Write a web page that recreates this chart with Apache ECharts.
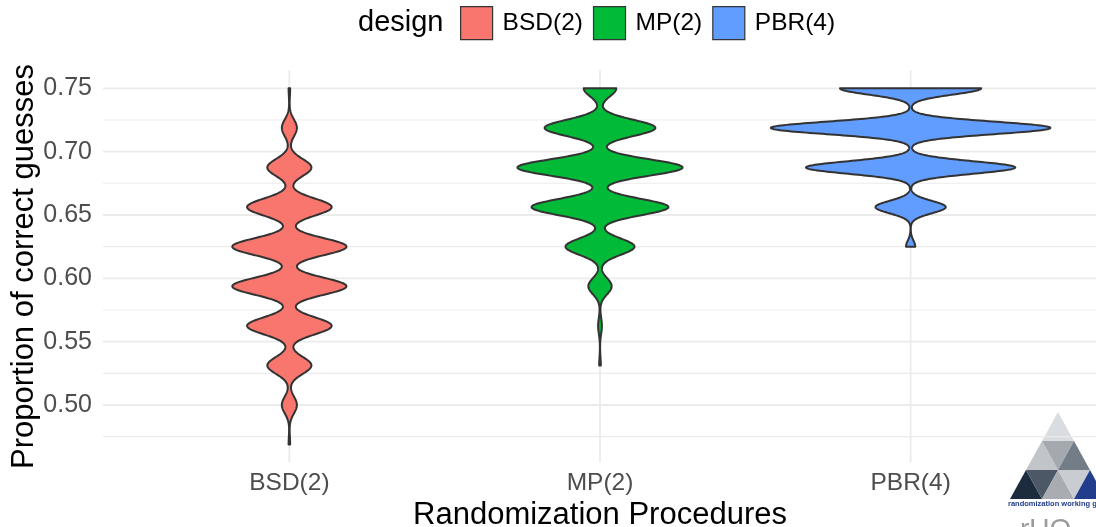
<!DOCTYPE html>
<html>
<head>
<meta charset="utf-8">
<script src="https://cdn.jsdelivr.net/npm/echarts@6/dist/echarts.min.js"></script>
<style>
  html, body { margin: 0; padding: 0; background: #ffffff; }
  #chart { width: 1096px; height: 527px; }
</style>
</head>
<body>
<div id="chart"></div>
<script>
// Randomization procedures compared on the proportion of correct guesses
const designs = ['BSD(2)', 'MP(2)', 'PBR(4)'];
const fills = ['#F8766D', '#00BA38', '#619CFF'];

// possible proportions of correct guesses (k / 32)
const levels = [0.46875, 0.5, 0.53125, 0.5625, 0.59375, 0.625, 0.65625, 0.6875, 0.71875, 0.75];
// number of simulated sequences reaching each proportion, per design
const countsBSD = [3, 29, 85, 163, 220, 220, 163, 85, 29, 3];
const countsMP  = [0, 0, 3, 7, 43, 127, 252, 304, 204, 60];
const countsPBR = [0, 0, 0, 0, 0, 13, 99, 295, 394, 199];
// kernel bandwidth of each design's density estimate
const bandwidths = [0.0067, 0.0064, 0.0049];

const yMajor = [0.50, 0.55, 0.60, 0.65, 0.70, 0.75];
const yMinor = [0.475, 0.525, 0.575, 0.625, 0.675, 0.725];
const xPositions = [1, 2, 3];

const FONT = 'Liberation Sans, Arial, Helvetica, sans-serif';

// Gaussian kernel density, trimmed to the observed range (512 points)
function violinProfile(counts, bw) {
  const pts = levels.map((v, i) => [v, counts[i]]).filter(d => d[1] > 0);
  const n = pts.reduce((s, d) => s + d[1], 0);
  const lo = pts[0][0], hi = pts[pts.length - 1][0];
  const steps = 512, out = [];
  for (let j = 0; j < steps; j++) {
    const y = lo + (hi - lo) * j / (steps - 1);
    let dens = 0;
    for (const [v, c] of pts) {
      const z = (y - v) / bw;
      dens += c * Math.exp(-0.5 * z * z);
    }
    out.push([y, dens / (n * bw * Math.sqrt(2 * Math.PI))]);
  }
  return out;
}

const profiles = [countsBSD, countsMP, countsPBR].map((c, i) => violinProfile(c, bandwidths[i]));
// scale = "area": the widest violin spans 0.9 of a category
const maxDens = Math.max(...profiles.map(p => Math.max(...p.map(d => d[1]))));
const halfWidths = profiles.map(p => p.map(d => [d[0], 0.45 * d[1] / maxDens]));

// continuous axis expanded by 5% of the data range, discrete axis by 0.6
const allY = profiles.flatMap(p => [p[0][0], p[p.length - 1][0]]);
const yLo = Math.min(...allY), yHi = Math.max(...allY);
const yPad = (yHi - yLo) * 0.05;
const yMin = yLo - yPad, yMax = yHi + yPad;
const xMin = 0.4, xMax = 3.6;

const chart = echarts.init(document.getElementById('chart'), null, { renderer: 'canvas' });

// panel grid lines: [orientation, value, major?]
const gridLines = []
  .concat(yMinor.map(v => [0, v, 0]))
  .concat(yMajor.map(v => [0, v, 1]))
  .concat(xPositions.map(v => [1, v, 1]));

const violinSeries = designs.map((name, gi) => ({
  name: name,
  type: 'custom',
  z: 3,
  itemStyle: { color: fills[gi], borderColor: '#333333', borderWidth: 1.2 },
  data: [[xPositions[gi]]],
  renderItem: function (params, api) {
    const x = api.value(0);
    const prof = halfWidths[gi];
    const pts = [];
    for (let j = 0; j < prof.length; j++) pts.push(api.coord([x + prof[j][1], prof[j][0]]));
    for (let j = prof.length - 1; j >= 0; j--) pts.push(api.coord([x - prof[j][1], prof[j][0]]));
    return {
      type: 'polygon',
      shape: { points: pts },
      style: { fill: fills[gi], stroke: '#333333', lineWidth: 2, lineJoin: 'round' }
    };
  }
}));

const option = {
  animation: false,
  backgroundColor: '#ffffff',
  textStyle: { fontFamily: FONT },
  grid: { left: 103, right: -1, top: 70.5, bottom: 64.6, containLabel: false, outerBoundsMode: 'none' },
  title: {
    text: 'design',
    left: 353,
    top: 3,
    textStyle: { fontFamily: FONT, fontSize: 29, fontWeight: 'normal', color: '#000000' }
  },
  legend: {
    data: designs,
    left: 460,
    top: 6,
    padding: 0,
    orient: 'horizontal',
    icon: 'rect',
    itemWidth: 32,
    itemHeight: 33,
    itemGap: 10,
    itemStyle: { borderColor: '#333333', borderWidth: 1.2 },
    selectedMode: false,
    textStyle: { fontFamily: FONT, fontSize: 24.5, color: '#000000', padding: [0, 0, 0, 5] }
  },
  xAxis: {
    type: 'value',
    min: xMin,
    max: xMax,
    axisLine: { show: false },
    axisTick: { show: false },
    splitLine: { show: false },
    axisLabel: {
      customValues: xPositions,
      formatter: v => designs[Math.round(v) - 1] || '',
      color: '#4d4d4d',
      fontFamily: FONT,
      fontSize: 24.5,
      margin: 8
    },
    name: 'Randomization Procedures',
    nameLocation: 'middle',
    nameGap: 34,
    nameTextStyle: { fontFamily: FONT, fontSize: 31, color: '#000000' }
  },
  yAxis: {
    type: 'value',
    min: yMin,
    max: yMax,
    axisLine: { show: false },
    axisTick: { show: false },
    splitLine: { show: false },
    axisLabel: {
      customValues: yMajor,
      formatter: v => v.toFixed(2),
      color: '#4d4d4d',
      fontFamily: FONT,
      fontSize: 25,
      margin: 11
    },
    name: 'Proportion of correct guesses',
    nameLocation: 'middle',
    nameGap: 63,
    nameMoveOverlap: false,
    nameTextStyle: { fontFamily: FONT, fontSize: 31, color: '#000000' }
  },
  series: [{
    name: 'grid',
    type: 'custom',
    z: 1,
    silent: true,
    data: gridLines,
    renderItem: function (params, api) {
      const horiz = api.value(0) === 0;
      const v = api.value(1);
      const major = api.value(2) === 1;
      const p1 = horiz ? api.coord([xMin, v]) : api.coord([v, yMin]);
      const p2 = horiz ? api.coord([xMax, v]) : api.coord([v, yMax]);
      return {
        type: 'line',
        shape: { x1: p1[0], y1: p1[1], x2: p2[0], y2: p2[1] },
        style: { stroke: '#ebebeb', lineWidth: major ? 1.8 : 1.1 }
      };
    }
  }].concat(violinSeries),
  graphic: [{
    // group logo in the lower right corner
    type: 'group',
    left: 1008,
    top: 412,
    silent: true,
    children: (function () {
      const ax = 50, ay = 2, rh = 29, hw = 16;
      const cols = [
        ['#d9dce0'],
        ['#c1c5ca', '#a4a9af', '#737d88'],
        ['#1d2b3e', '#4d5867', '#a9adb3', '#c9ccd0', '#213d8c']
      ];
      const out = [];
      for (let r = 0; r < 3; r++) {
        const top = ay + rh * r, bot = top + rh;
        for (let k = 0; k < 2 * r + 1; k++) {
          const idx = Math.floor(k / 2);
          let pts;
          if (k % 2 === 0) {
            const cx = ax - hw * r + 2 * hw * idx;
            pts = [[cx, top], [cx - hw, bot], [cx + hw, bot]];
          } else {
            const lx = ax - hw * r + 2 * hw * idx;
            pts = [[lx, top], [lx + 2 * hw, top], [lx + hw, bot]];
          }
          out.push({ type: 'polygon', shape: { points: pts }, style: { fill: cols[r][k] } });
        }
      }
      out.push({
        type: 'text', x: 0, y: 90,
        style: { text: 'randomization working group', fill: '#1f3b8c', font: 'bold 7.5px ' + FONT }
      });
      out.push({
        type: 'text', x: 12, y: 106,
        style: { text: 'rUO', fill: '#9a9a9a', font: '28px ' + FONT }
      });
      return out;
    })()
  }]
};

chart.setOption(option);
</script>
</body>
</html>
